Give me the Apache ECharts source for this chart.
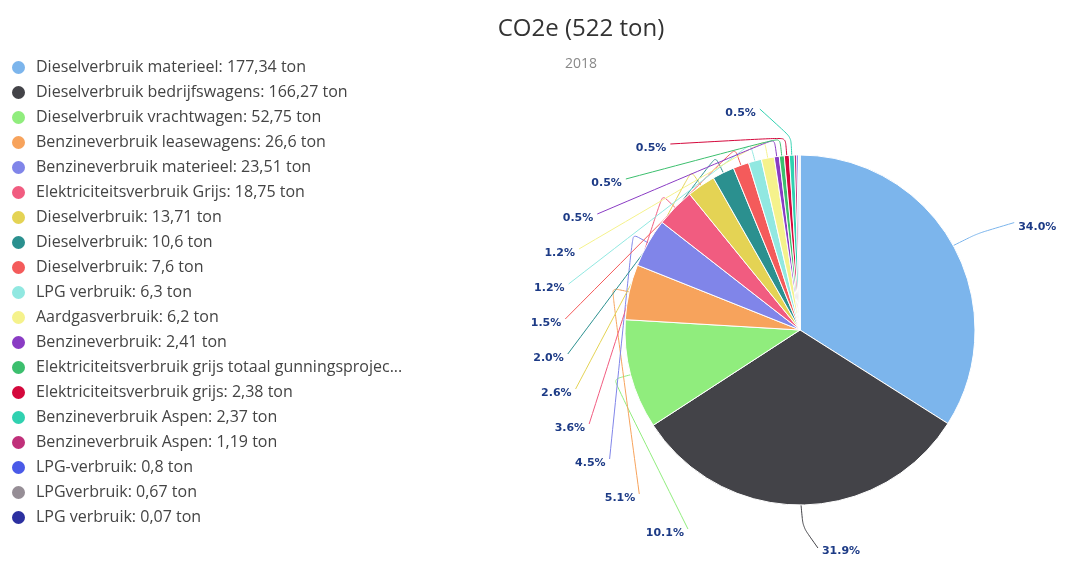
<!DOCTYPE html>
<html>
<head>
<meta charset="utf-8">
<script src="https://cdn.jsdelivr.net/npm/echarts@6/dist/echarts.min.js"></script>
<style>html,body{margin:0;padding:0;background:#fff}#c{width:1089px;height:563px}</style>
</head>
<body>
<div id="c"></div>
<script>
const categories = [
  'Dieselverbruik materieel',
  'Dieselverbruik bedrijfswagens',
  'Dieselverbruik vrachtwagen',
  'Benzineverbruik leasewagens',
  'Benzineverbruik materieel',
  'Elektriciteitsverbruik Grijs',
  'Dieselverbruik',
  'Dieselverbruik',
  'Dieselverbruik',
  'LPG verbruik',
  'Aardgasverbruik',
  'Benzineverbruik',
  'Elektriciteitsverbruik grijs totaal gunningsprojecten',
  'Elektriciteitsverbruik grijs',
  'Benzineverbruik Aspen',
  'Benzineverbruik Aspen',
  'LPG-verbruik',
  'LPGverbruik',
  'LPG verbruik'
];
const values = [177.34, 166.27, 52.75, 26.6, 23.51, 18.75, 13.71, 10.6, 7.6, 6.3, 6.2, 2.41, 2.4, 2.38, 2.37, 1.19, 0.8, 0.67, 0.07];
const colors = ['#7cb5ec', '#434348', '#90ed7d', '#f7a35c', '#8085e9', '#f15c80', '#e4d354', '#2b908f', '#f45b5b', '#91e8e1',
  '#f5f28c', '#8a3cc4', '#3cbf6e', '#d4083c', '#30d1b0', '#c0307a', '#4a5ae8', '#968e96', '#2c30a0'];
const titleText = 'CO2e (522 ton)';
const subtitleText = '2018';

const fmt = v => String(v).replace('.', ',');
const names = categories.map((c, i) => c + ': ' + fmt(values[i]) + ' ton');
const total = values.reduce((a, b) => a + b, 0);

const CX = 800, CY = 330, R = 175;

const chart = echarts.init(document.getElementById('c'), null, {renderer: 'canvas'});
chart.setOption({
  animation: false,
  color: colors,
  title: {
    text: titleText,
    subtext: subtitleText,
    left: 576,
    textAlign: 'center',
    top: 12,
    itemGap: 16,
    textStyle: {fontFamily: 'Open Sans', fontSize: 24, fontWeight: 'normal', color: '#333'},
    subtextStyle: {fontFamily: 'Open Sans', fontSize: 14, color: '#888'}
  },
  legend: {
    orient: 'vertical',
    left: 5,
    top: 54,
    icon: 'circle',
    itemWidth: 15,
    itemHeight: 15,
    itemGap: 8,
    data: names,
    textStyle: {fontFamily: 'Open Sans', fontSize: 16, color: '#444', width: 372, overflow: 'truncate', ellipsis: '...', padding: [0, 0, 0, 5]}
  },
  series: [{
    type: 'pie',
    center: [CX, CY],
    radius: R,
    startAngle: 90,
    clockwise: true,
    itemStyle: {borderColor: '#fff', borderWidth: 1},
    label: {
      formatter: p => (p.value / total * 100).toFixed(1) + '%',
      color: '#1d3b86',
      fontWeight: 'bold',
      fontSize: 11,
      fontFamily: 'DejaVu Sans'
    },
    labelLine: {length: 22, length2: 18, smooth: 0.2, lineStyle: {width: 1}},
    data: values.map((v, i) => ({
      name: names[i],
      value: v,
      label: {show: v >= 2},
      labelLine: {show: v >= 2}
    })),
    labelLayout: function (p) {
      const i = p.dataIndex;
      if (values[i] < 2) return;
      const w = p.labelRect.width;
      const s = p.labelLinePoints ? p.labelLinePoints[0] : [CX, CY];
      const ang = Math.atan2(s[1] - CY, s[0] - CX);
      if (i === 0) {
        const lx = s[0] + 84, ly = s[1] - 18;
        return {x: lx, y: ly, align: 'center', verticalAlign: 'middle',
          labelLinePoints: [s, [s[0] + 24, s[1] - 12], [lx - w / 2 - 4, ly - 5]]};
      }
      if (i === 1) {
        const lx = s[0] + 40, ly = s[1] + 46;
        return {x: lx, y: ly, align: 'center', verticalAlign: 'middle',
          labelLinePoints: [s, [s[0] + 2, s[1] + 22], [lx - w / 2 - 4, ly - 3]]};
      }
      const ly = 533 - 35 * (i - 2);
      const dy = ly - (CY - 7);
      const ry = dy < 0 ? 216 : 248;
      const t = Math.max(0, 1 - (dy / ry) * (dy / ry));
      const lx = CX - 254 * Math.sqrt(t);
      const m = [s[0] + 18 * Math.cos(ang), s[1] + 18 * Math.sin(ang)];
      return {
        x: lx,
        y: ly,
        align: 'center',
        verticalAlign: 'middle',
        labelLinePoints: [s, m, [lx + w / 2 + 4, ly - 4]]
      };
    }
  }]
});
</script>
</body>
</html>
